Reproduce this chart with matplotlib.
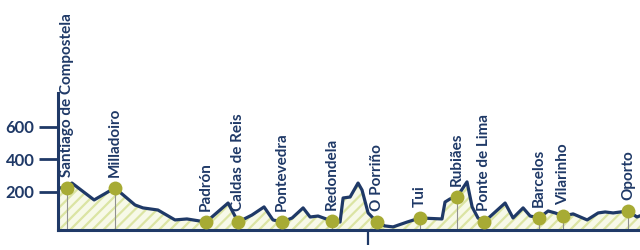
import matplotlib.pyplot as plt

# Elevation profile of the Camino Portugués (km from Santiago, altitude in m)
profile_km = [-3.9, 0.0, 2.1, 11.6, 20.5, 29.1, 32.5, 38.9, 46.2, 51.3,
              59.5, 68.9, 73.2, 79.1, 84.3, 88.1, 92.0, 96.3, 101.0, 104.0,
              107.4, 113.4, 116.8, 118.1, 121.1, 124.5, 126.2, 128.8, 132.6, 136.0,
              139.5, 145.5, 151.0, 160.4, 161.7, 163.8, 166.8, 171.1, 173.3, 175.8,
              178.4, 187.4, 190.8, 195.1, 198.1, 201.9, 205.8, 208.8, 212.2, 216.5,
              222.5, 227.2, 230.2, 233.6, 240.0, 243.8, 247.2]
profile_alt = [225, 225, 255, 151, 225, 120, 102, 89, 28, 34,
               15, 132, 15, 58, 108, 28, 15, 40, 102, 46,
               52, 21, 15, 163, 169, 255, 212, 71, 15, -9,
               -15, 15, 40, 34, 138, 157, 169, 262, 108, 40,
               15, 132, 40, 102, 52, 40, 83, 71, 52, 65,
               28, 71, 77, 71, 83, 46, 65]

stops = ["Santiago de Compostela", "Milladoiro", "Padrón", "Caldas de Reis",
         "Pontevedra", "Redondela", "O Porriño", "Tui", "Rubiães",
         "Ponte de Lima", "Barcelos", "Vilarinho", "Oporto"]
stop_km = [0.0, 20.5, 59.5, 73.2, 92.0, 113.4, 132.6, 151.0, 166.8,
           178.4, 201.9, 212.2, 240.0]
stop_alt = [225, 225, 15, 15, 15, 21, 15, 40, 169, 15, 40, 52, 83]

y_ticks = [200, 400, 600]
x_ticks = [128.8]

navy = '#1f3967'
olive = '#a7ab34'

plt.rcParams['font.family'] = ['Lato', 'DejaVu Sans']
plt.rcParams['hatch.linewidth'] = 1.6

fig = plt.figure(figsize=(6.4, 2.5), dpi=100)
ax = fig.add_axes([0.0906, 0.08, 0.9094, 0.548])

y_min, y_max = -34, 809
ax.set_xlim(-3.85, 245.1)
ax.set_ylim(y_min, y_max)

# Hatched area under the profile
ax.fill_between(profile_km, profile_alt, y_min, facecolor='#f7f9e8',
                edgecolor='#dbe4a3', hatch='///', linewidth=0, zorder=1)
ax.plot(profile_km, profile_alt, color=navy, lw=2.3,
        solid_joinstyle='round', solid_capstyle='round', zorder=3)

# Stops: drop lines, dots and labels
ax.vlines(stop_km, y_min, stop_alt, color='#8f8f8f', lw=0.8, zorder=2)
ax.plot(stop_km, stop_alt, 'o', color=olive, markersize=10,
        markeredgewidth=0, zorder=4)
for name, km, alt in zip(stops, stop_km, stop_alt):
    ax.annotate(name, (km, alt), xytext=(0, 8), textcoords='offset points',
                rotation=90, ha='center', va='bottom', color=navy,
                fontsize=11, fontweight='bold', annotation_clip=False)

# Axes styling
for side in ['top', 'right']:
    ax.spines[side].set_visible(False)
for side in ['left', 'bottom']:
    ax.spines[side].set_color(navy)
    ax.spines[side].set_linewidth(2.2)
ax.spines['left'].set_bounds(y_min, y_max)

ax.set_yticks(y_ticks)
ax.set_yticklabels([str(v) for v in y_ticks])
ax.tick_params(axis='y', direction='out', length=14, width=2, color=navy,
               labelcolor=navy, labelsize=12, pad=3)
for lbl in ax.get_yticklabels():
    lbl.set_fontweight('bold')

ax.set_xticks(x_ticks)
ax.set_xticklabels([])
ax.tick_params(axis='x', direction='out', length=11, width=1.6, color=navy)

fig.savefig('out.png', dpi=100)
